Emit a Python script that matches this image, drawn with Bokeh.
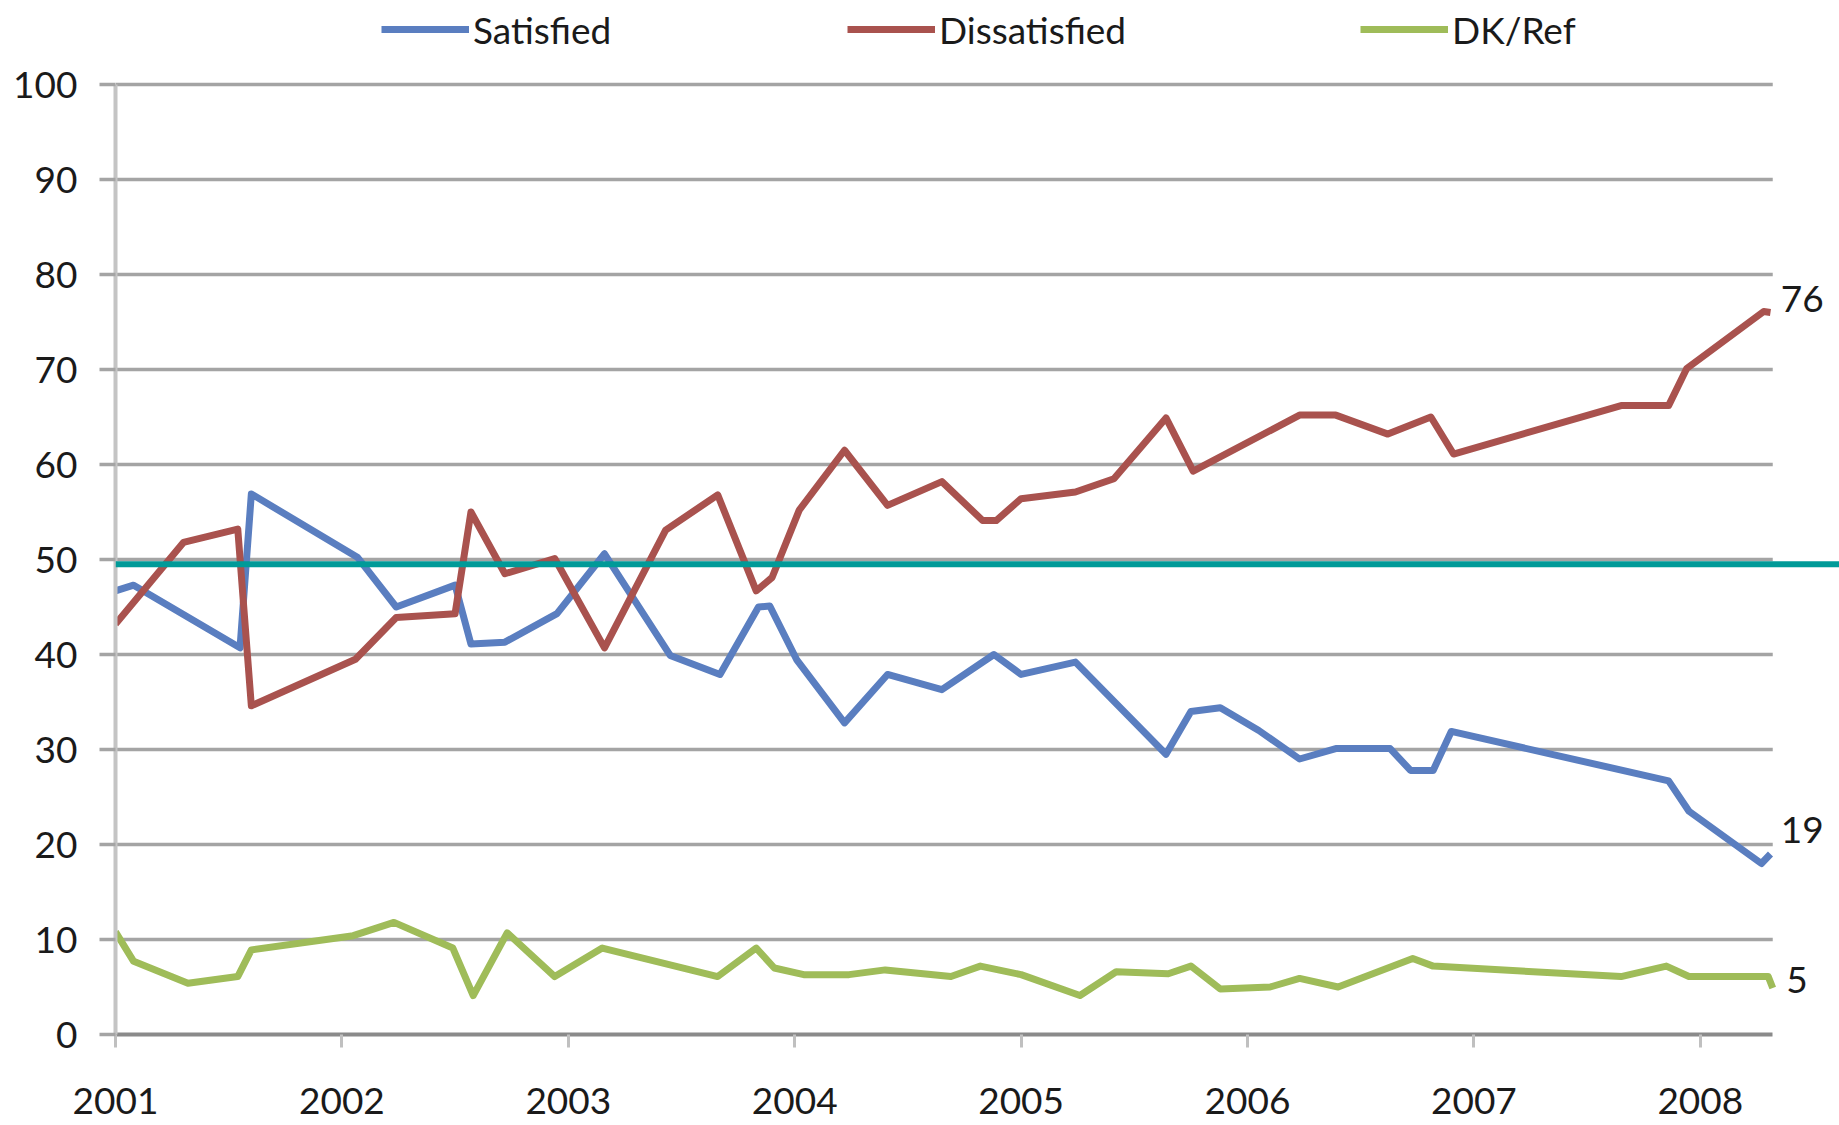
from bokeh.plotting import figure
from bokeh.models import Range1d, FixedTicker, Legend, LegendItem, Span, ColumnDataSource
from bokeh.core.properties import value
from bokeh.embed import file_html
from bokeh.resources import INLINE

# ---------------- data ----------------
years = [2001, 2002, 2003, 2004, 2005, 2006, 2007, 2008]
y_ticks = [0, 10, 20, 30, 40, 50, 60, 70, 80, 90, 100]
series_names = ["Satisfied", "Dissatisfied", "DK/Ref"]

sat_x = [2001.00, 2001.08, 2001.55, 2001.60, 2002.07, 2002.24, 2002.50, 2002.57, 2002.72,
         2002.95, 2003.16, 2003.45, 2003.67, 2003.84, 2003.89, 2004.01, 2004.22, 2004.41,
         2004.65, 2004.88, 2005.00, 2005.24, 2005.64, 2005.75, 2005.88, 2006.05, 2006.23,
         2006.39, 2006.63, 2006.72, 2006.82, 2006.90, 2007.86, 2007.95, 2008.27, 2008.31]
sat_y = [46.7, 47.3, 40.7, 56.9, 50.2, 45.0, 47.3, 41.1, 41.3,
         44.3, 50.6, 39.9, 37.9, 45.0, 45.1, 39.4, 32.8, 37.9,
         36.3, 40.0, 37.9, 39.2, 29.5, 34.0, 34.4, 32.0, 29.0,
         30.1, 30.1, 27.8, 27.8, 31.9, 26.7, 23.5, 18.0, 19.0]

dis_x = [2001.00, 2001.30, 2001.54, 2001.60, 2002.06, 2002.24, 2002.50, 2002.57, 2002.72,
         2002.94, 2003.16, 2003.43, 2003.66, 2003.83, 2003.90, 2004.02, 2004.22, 2004.41,
         2004.65, 2004.83, 2004.89, 2005.00, 2005.24, 2005.41, 2005.64, 2005.76, 2006.23,
         2006.39, 2006.62, 2006.81, 2006.91, 2007.65, 2007.86, 2007.94, 2008.28, 2008.31]
dis_y = [43.2, 51.8, 53.2, 34.6, 39.5, 43.9, 44.3, 55.0, 48.5,
         50.1, 40.7, 53.1, 56.8, 46.7, 48.1, 55.2, 61.5, 55.7,
         58.2, 54.1, 54.1, 56.4, 57.1, 58.5, 64.9, 59.3, 65.2,
         65.2, 63.2, 65.0, 61.1, 66.2, 66.2, 70.1, 76.1, 76.0]

dk_x = [2001.00, 2001.08, 2001.32, 2001.54, 2001.60, 2002.05, 2002.23, 2002.49, 2002.58,
        2002.73, 2002.94, 2003.15, 2003.66, 2003.83, 2003.91, 2004.04, 2004.24, 2004.40,
        2004.69, 2004.82, 2005.00, 2005.26, 2005.42, 2005.65, 2005.75, 2005.88, 2006.10,
        2006.23, 2006.40, 2006.73, 2006.82, 2007.65, 2007.85, 2007.95, 2008.30, 2008.32]
dk_y = [10.8, 7.7, 5.4, 6.1, 8.9, 10.4, 11.8, 9.1, 4.1,
        10.7, 6.1, 9.1, 6.1, 9.1, 7.0, 6.3, 6.3, 6.8,
        6.1, 7.2, 6.3, 4.1, 6.6, 6.4, 7.2, 4.8, 5.0,
        5.9, 5.0, 8.0, 7.2, 6.1, 7.2, 6.1, 6.1, 4.9]

reference_level = 49.5
end_labels = ["76", "19", "5"]

# ---------------- style ----------------
FONT = "Lato"
FS = "37px"
COLORS = ["#5a7ec0", "#a9524e", "#9fbc59"]
TEAL = "#009a98"
GRID = "#a4a4a4"
W, H = 1839, 1125
LEFT, BOTTOM = 115, 91
PX_PER_YEAR = 226.4
PX_PER_UNIT = 9.5

x_end = max(sat_x[-1], dis_x[-1], dk_x[-1])
frame_bottom = H - BOTTOM

# frame reaches the top of the canvas so the legend above the 100 line is not clipped
p = figure(width=W, height=H, output_backend="svg", toolbar_location=None,
           x_range=Range1d(years[0], years[0] + (W - LEFT) / PX_PER_YEAR),
           y_range=Range1d(0, frame_bottom / PX_PER_UNIT),
           min_border_left=LEFT, min_border_right=0, min_border_top=0, min_border_bottom=BOTTOM,
           background_fill_color="white", border_fill_color="white")
p.outline_line_color = None
p.xgrid.visible = False
p.ygrid.visible = False

# horizontal gridlines stopping at the last survey
gy = y_ticks[1:]
p.segment(x0=[years[0]] * len(gy), y0=gy, x1=[x_end] * len(gy), y1=gy,
          line_color=GRID, line_width=3.5)

# axes
xa = p.xaxis[0]
xa.ticker = FixedTicker(ticks=years)
xa.bounds = (years[0], x_end)
xa.axis_line_color = "#8a8a8a"
xa.axis_line_width = 4
xa.major_tick_line_color = "#c0c0c0"
xa.major_tick_line_width = 3
xa.major_tick_out = 13
xa.major_tick_in = 0
xa.minor_tick_line_color = None
xa.major_label_text_font = FONT
xa.major_label_text_font_size = FS
xa.major_label_text_color = "#1a1a1a"
xa.major_label_standoff = 40

ya = p.yaxis[0]
ya.ticker = FixedTicker(ticks=y_ticks)
ya.bounds = (0, 100)
ya.axis_line_color = "#c4c4c4"
ya.axis_line_width = 4
ya.major_tick_line_color = GRID
ya.major_tick_line_width = 3.5
ya.major_tick_out = 16
ya.major_tick_in = 0
ya.minor_tick_line_color = None
ya.major_label_text_font = FONT
ya.major_label_text_font_size = FS
ya.major_label_text_color = "#1a1a1a"
ya.major_label_standoff = 22

# series
renderers = []
for xs, ys, c in [(sat_x, sat_y, COLORS[0]), (dis_x, dis_y, COLORS[1]), (dk_x, dk_y, COLORS[2])]:
    r = p.line(xs, ys, line_color=c, line_width=7, line_join="round")
    renderers.append(r)

# reference line
p.add_layout(Span(location=reference_level, dimension="width", line_color=TEAL, line_width=6))

# end labels
label_src = ColumnDataSource(dict(
    x=[dis_x[-1] + 0.045, sat_x[-1] + 0.045, dk_x[-1] + 0.06],
    y=[dis_y[-1] + 1.4, sat_y[-1] + 2.5, dk_y[-1] + 0.8],
    t=end_labels))
p.text(x="x", y="y", text="t", source=label_src, text_font=value(FONT),
       text_font_size=FS, text_color="#1a1a1a", text_baseline="middle", text_align="left")

# legend above the 100 line: one legend per entry, each placed on its own
legend_left = [381, 847, 1360]
legend_h = 44
legend_center_y = 29.5
for name, r, lx in zip(series_names, renderers, legend_left):
    lg = Legend(items=[LegendItem(label=name, renderers=[r])],
                orientation="horizontal",
                location=(lx - LEFT, frame_bottom - (legend_center_y + legend_h / 2)),
                glyph_width=88, glyph_height=legend_h, label_height=legend_h,
                label_standoff=4, padding=0, margin=0,
                border_line_color=None, background_fill_alpha=0,
                label_text_font=FONT, label_text_font_size=FS, label_text_color="#1a1a1a")
    p.add_layout(lg, "center")

open("out.html", "w").write(file_html(p, INLINE))
